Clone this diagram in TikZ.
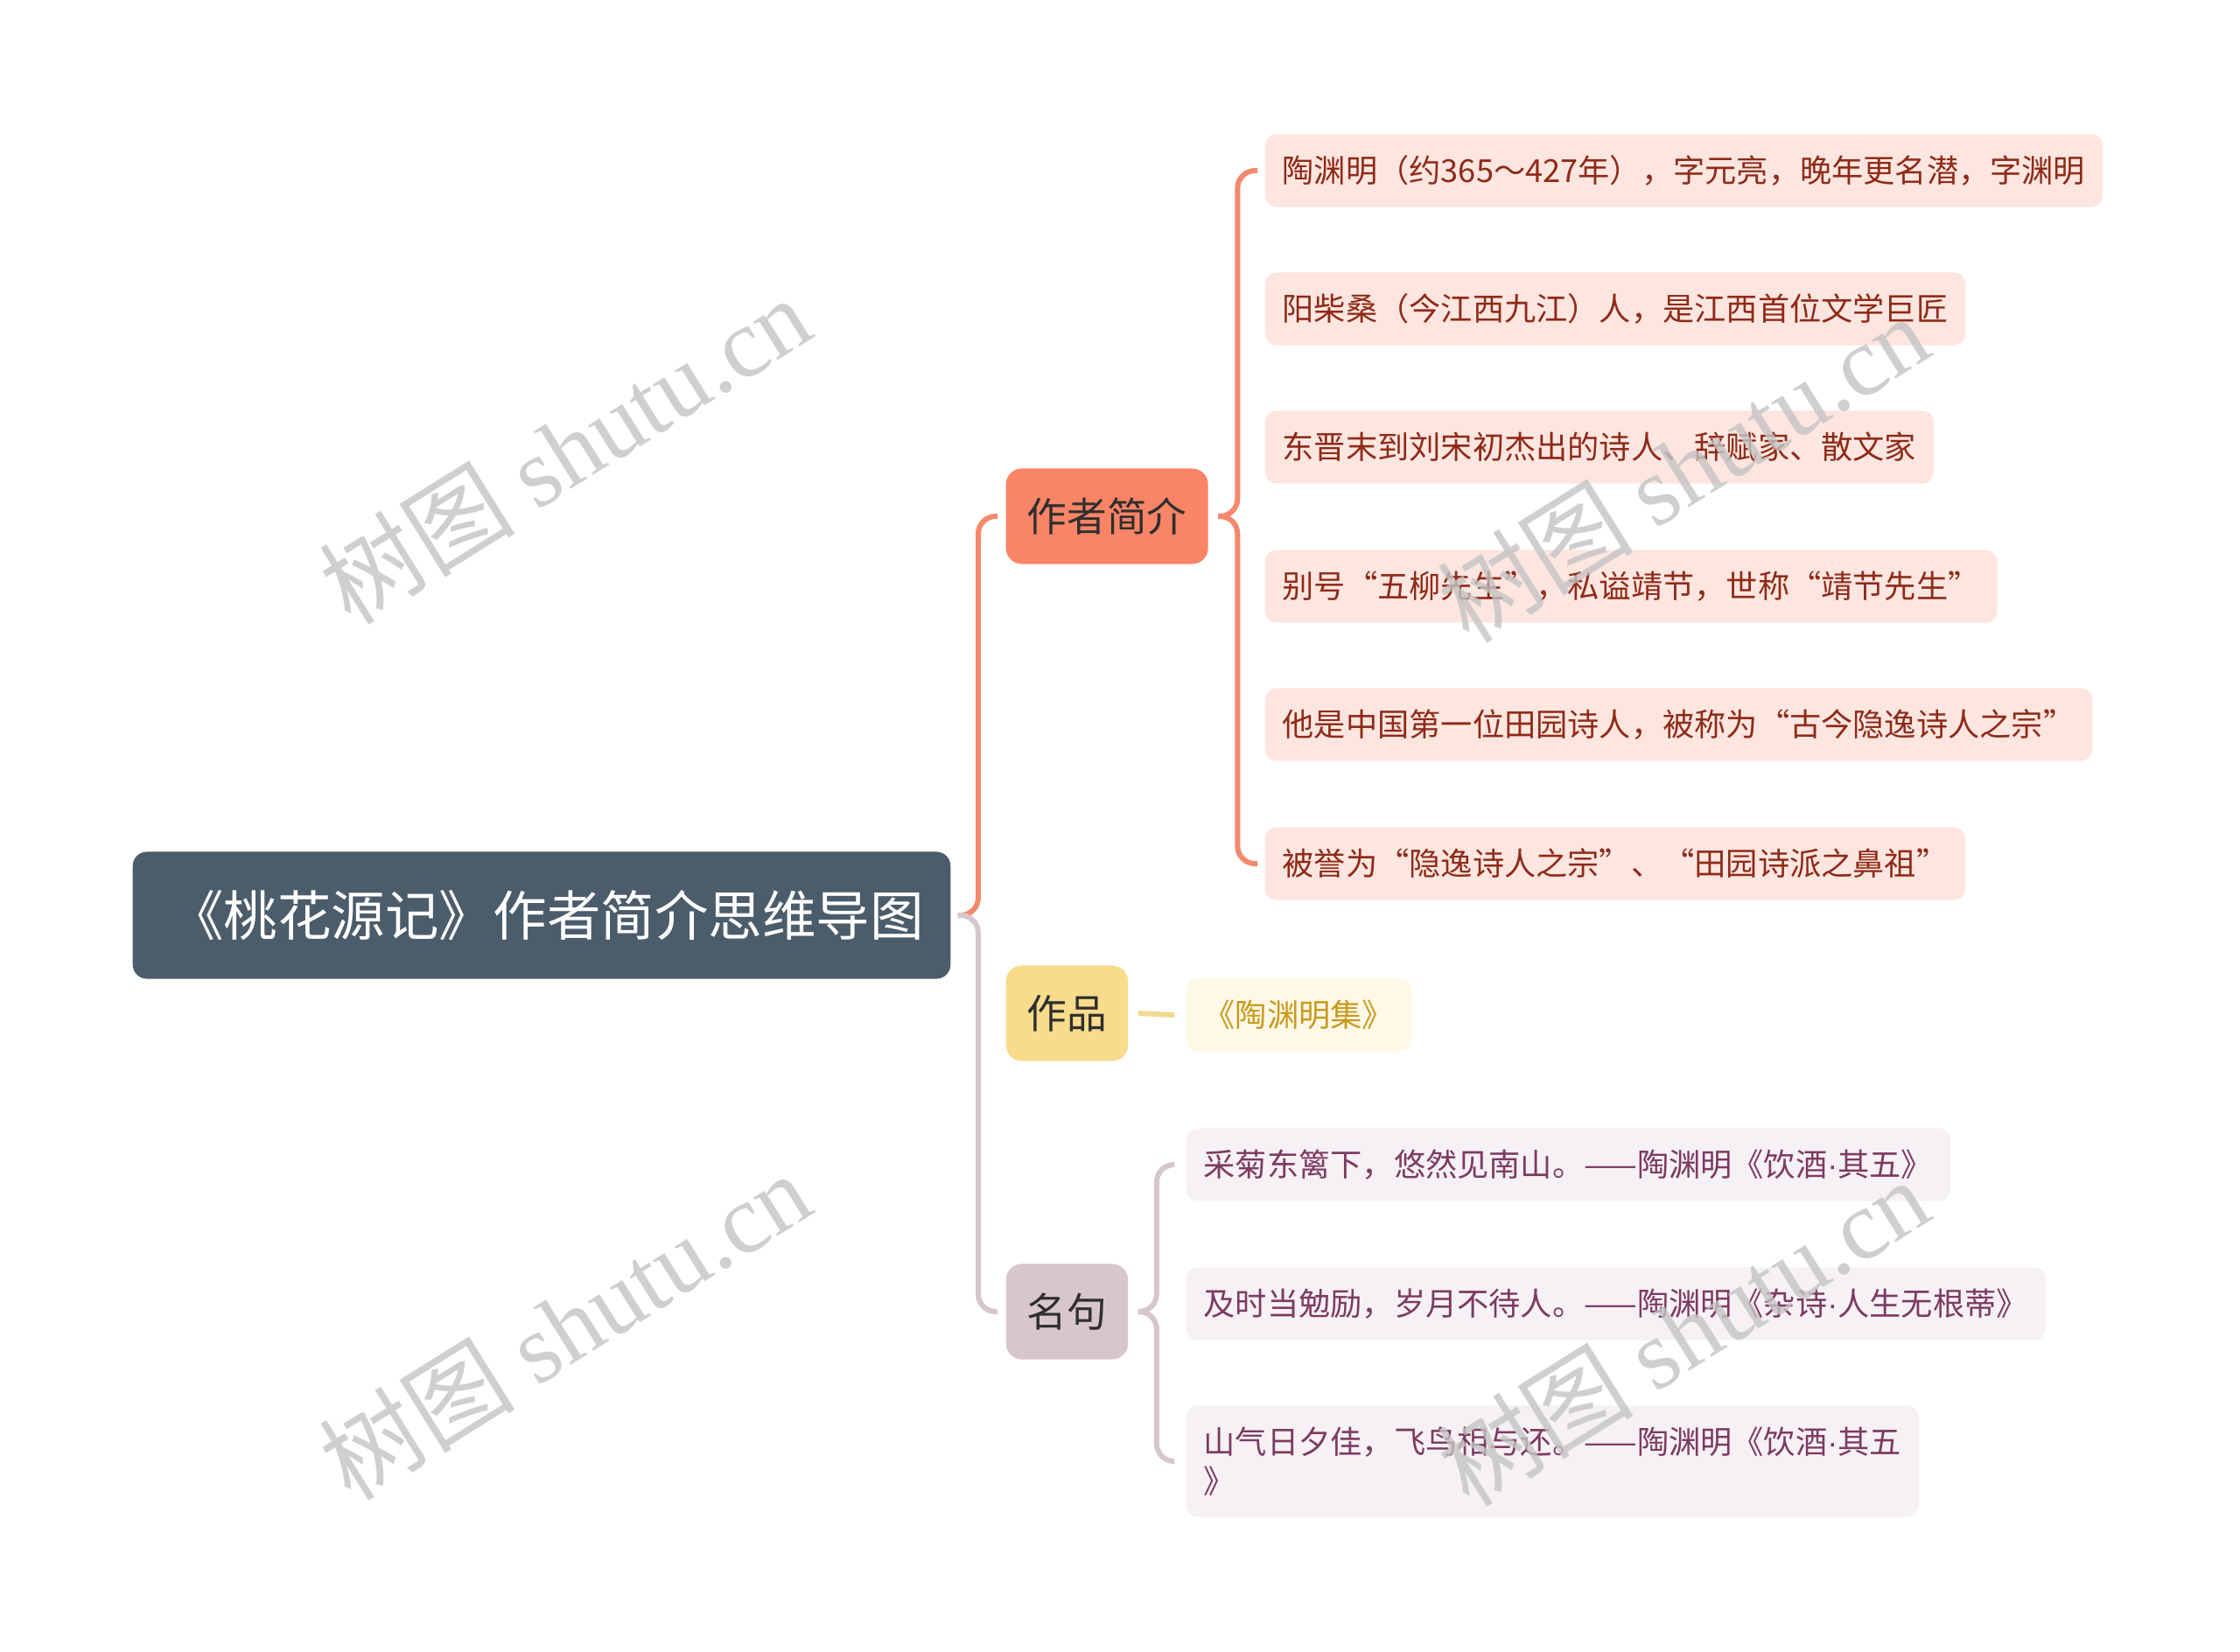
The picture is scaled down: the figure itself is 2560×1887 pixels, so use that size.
\documentclass[tikz,border=0pt]{standalone}
\usepackage{fontspec}
\setmainfont{Noto Sans CJK SC}
\newfontfamily\wmlatin{Liberation Serif}
\newfontfamily\dotfont{Liberation Sans}
\newcommand{\mdot}{{\dotfont ·}}
\usetikzlibrary{positioning}

\definecolor{rootfill}{HTML}{4B5C6B}
\definecolor{authorfill}{HTML}{FA8466}
\definecolor{authorline}{HTML}{F4896B}
\definecolor{workfill}{HTML}{F8DC8C}
\definecolor{workline}{HTML}{F2D98F}
\definecolor{quotefill}{HTML}{D8C6CE}
\definecolor{quoteline}{HTML}{D6C6CE}
\definecolor{branchtext}{HTML}{2F2F2F}
\definecolor{leafAfill}{HTML}{FDE6E0}
\definecolor{leafAtext}{HTML}{8F2A18}
\definecolor{leafWfill}{HTML}{FEF8E6}
\definecolor{leafWtext}{HTML}{C89B1E}
\definecolor{leafQfill}{HTML}{F6F1F4}
\definecolor{leafQtext}{HTML}{7D3A62}
\definecolor{wmgray}{HTML}{C4C4C4}

\begin{document}
\begin{tikzpicture}[
            x=0.01cm, y=-0.01cm,
            root/.style={fill=rootfill, text=white, rounded corners=0.16cm, minimum width=9.34cm, minimum height=1.45cm, font=\fontsize{17.5pt}{21pt}\selectfont},
            branch/.style={anchor=west, rounded corners=0.18cm, minimum height=1.09cm, inner xsep=0.24cm, text=branchtext, font=\fontsize{13pt}{15pt}\selectfont},
            leaf/.style={anchor=west, rounded corners=0.13cm, minimum height=0.83cm, inner xsep=0.2cm, font=\fontsize{10.3pt}{12.8pt}\selectfont},
            link/.style={line width=1.7pt, rounded corners=0.2cm},
            wm/.style={text=wmgray, opacity=0.8, rotate=32, font=\fontsize{32pt}{34pt}\selectfont}
        ]
        \useasboundingbox[fill=white] (0,0) rectangle (2560,1887);

        % Root node
        \node[root] (root) at (619,1046) {\hspace{0.12cm}《桃花源记》作者简介思维导图};

        % Branch nodes
        \node[branch, fill=authorfill] (author) at (1149,590)  {作者简介};
        \node[branch, fill=workfill]   (work)   at (1149,1158) {作品};
        \node[branch, fill=quotefill]  (quote)  at (1149,1499) {名句};

        % Author leaves
        \node[leaf, fill=leafAfill, text=leafAtext] (a1) at (1445,195) {陶渊明（约365～427年），字元亮，晚年更名潜，字渊明};
        \node[leaf, fill=leafAfill, text=leafAtext] (a2) at (1445,353) {阳柴桑（今江西九江）人，是江西首位文学巨匠};
        \node[leaf, fill=leafAfill, text=leafAtext] (a3) at (1445,511) {东晋末到刘宋初杰出的诗人、辞赋家、散文家};
        \node[leaf, fill=leafAfill, text=leafAtext] (a4) at (1445,670) {别号“五柳先生”，私谥靖节，世称“靖节先生”};
        \node[leaf, fill=leafAfill, text=leafAtext] (a5) at (1445,828) {他是中国第一位田园诗人，被称为“古今隐逸诗人之宗”};
        \node[leaf, fill=leafAfill, text=leafAtext] (a6) at (1445,987) {被誉为“隐逸诗人之宗”、“田园诗派之鼻祖”};

        % Work leaf
        \node[leaf, fill=leafWfill, text=leafWtext] (w1) at (1355,1160) {《陶渊明集》};

        % Quote leaves
        \node[leaf, fill=leafQfill, text=leafQtext] (q1) at (1355,1331) {采菊东篱下，悠然见南山。——陶渊明《饮酒\mdot 其五》};
        \node[leaf, fill=leafQfill, text=leafQtext] (q2) at (1355,1490) {及时当勉励，岁月不待人。——陶渊明《杂诗\mdot 人生无根蒂》};
        \node[leaf, fill=leafQfill, text=leafQtext, align=left, minimum height=1.27cm] (q3) at (1355,1670) {山气日夕佳，飞鸟相与还。——陶渊明《饮酒\mdot 其五\\》};

        % root -> branches
        \draw[link, authorline] ([xshift=0.08cm]root.east) -- ++(23,0) |- ([xshift=-0.09cm]author.west);
        \draw[link, quoteline]  ([xshift=0.08cm]root.east) -- ++(23,0) |- ([xshift=-0.09cm]quote.west);

        % author -> leaves
        \draw[link, authorline] ([xshift=0.11cm]author.east) -- ++(22,0) |- ([xshift=-0.08cm]a1.west);
        \draw[link, authorline] ([xshift=0.11cm]author.east) -- ++(22,0) |- ([xshift=-0.08cm]a6.west);

        % work -> leaf
        \draw[link, workline] ([xshift=0.11cm]work.east) -- ([xshift=-0.13cm]w1.west);

        % quote -> leaves
        \draw[link, quoteline] ([xshift=0.11cm]quote.east) -- ++(21,0) |- ([xshift=-0.13cm]q1.west);
        \draw[link, quoteline] ([xshift=0.11cm]quote.east) -- ++(21,0) |- ([xshift=-0.13cm]q3.west);

        % Watermarks
        \node[wm] (wm1) at (645,514)   {树图 {\wmlatin shutu.cn}};
        \node[wm] (wm2) at (645,1515)  {树图 {\wmlatin shutu.cn}};
        \node[wm] (wm3) at (1923,535)  {树图 {\wmlatin shutu.cn}};
        \node[wm] (wm4) at (1923,1522) {树图 {\wmlatin shutu.cn}};
    \end{tikzpicture}
\end{document}
